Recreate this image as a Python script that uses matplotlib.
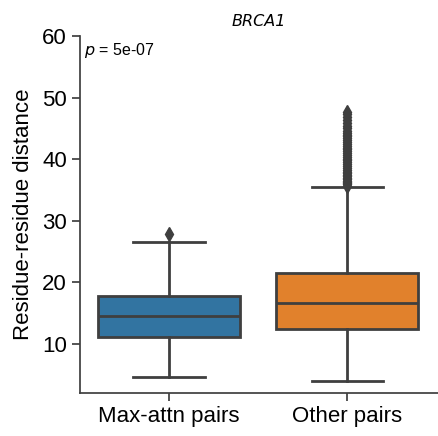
import matplotlib
matplotlib.use("Agg")
import matplotlib.pyplot as plt

categorias = ["Max-attn pairs", "Other pairs"]
cores = ["#3274a1", "#e1812c"]

q1 = [11.2, 12.4]
mediana = [14.6, 16.6]
q3 = [17.8, 21.6]
bigode_baixo = [4.6, 4.0]
bigode_alto = [26.6, 35.5]
outliers = [
    [27.9],
    [35.7, 35.9, 36.1, 36.3, 36.5, 36.8, 37.0, 37.3, 37.5, 37.8, 38.0, 38.3,
     38.6, 38.9, 39.2, 39.5, 39.8, 40.1, 40.4, 40.7, 41.0, 41.3, 41.6, 41.9,
     42.2, 42.5, 42.8, 43.1, 43.4, 43.7, 44.0, 44.3, 44.6, 45.0, 45.4, 45.9,
     46.3, 46.9, 47.3, 47.7],
]
titulo = "BRCA1"
texto_p = "$p$ = 5e-07"

plt.rcParams["font.family"] = ["Liberation Sans", "DejaVu Sans"]

fig = plt.figure(figsize=(4.38, 4.36), dpi=100)
ax = fig.add_axes([0.1826, 0.0986, 0.8174, 0.8188])

stats = []
for i in range(len(categorias)):
    stats.append({
        "q1": q1[i], "med": mediana[i], "q3": q3[i],
        "whislo": bigode_baixo[i], "whishi": bigode_alto[i],
        "fliers": outliers[i], "label": categorias[i],
    })

cinza = "#3f3f3f"
lw = 2.0
bp = ax.bxp(stats, positions=[0, 1], widths=0.8, patch_artist=True,
            boxprops=dict(edgecolor=cinza, linewidth=lw),
            medianprops=dict(color=cinza, linewidth=lw),
            whiskerprops=dict(color=cinza, linewidth=lw),
            capprops=dict(color=cinza, linewidth=lw),
            flierprops=dict(marker="d", markerfacecolor=cinza, markeredgecolor=cinza,
                            markersize=7),
            capwidths=0.4)
for caixa, cor in zip(bp["boxes"], cores):
    caixa.set_facecolor(cor)

ax.set_xlim(-0.5, 1.51)
ax.set_ylim(2.05, 60)
ax.set_yticks([10, 20, 30, 40, 50, 60])
ax.set_xticks([0, 1])
ax.set_xticklabels(categorias)
ax.tick_params(axis="both", labelsize=16, width=1.25, length=6, color=cinza)
ax.set_ylabel("Residue-residue distance", fontsize=16, labelpad=6)
for lado in ["top", "right"]:
    ax.spines[lado].set_visible(False)
for lado in ["left", "bottom"]:
    ax.spines[lado].set_linewidth(1.25)
    ax.spines[lado].set_color(cinza)

ax.set_title(titulo, fontsize=11.5, style="italic", family="DejaVu Sans", pad=7)
ax.text(0.01, 0.985, texto_p, transform=ax.transAxes, fontsize=11.5, va="top", ha="left")

fig.savefig("out.png", dpi=100)
